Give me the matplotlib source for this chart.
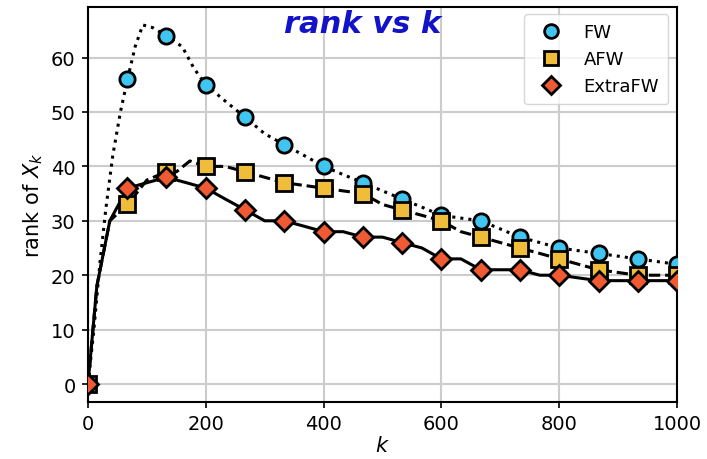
import matplotlib.pyplot as plt
import numpy as np

# --- data ---
k_marks = [0, 67, 133, 200, 267, 333, 400, 467, 533, 600, 667, 733, 800, 867, 933, 1000]
fw_marks = [0, 56, 64, 55, 49, 44, 40, 37, 34, 31, 30, 27, 25, 24, 23, 22]
afw_marks = [0, 33, 39, 40, 39, 37, 36, 35, 32, 30, 27, 25, 23, 21, 20, 20]
extra_marks = [0, 36, 38, 36, 32, 30, 28, 27, 26, 23, 21, 21, 20, 19, 19, 19]

# line traces (denser than markers)
fw_k = [0, 10, 20, 30, 42, 55, 67, 80, 93, 110, 133, 160, 180, 200, 233, 267, 300, 333,
        367, 400, 433, 467, 500, 533, 567, 600, 633, 667, 700, 733, 767, 800, 833, 867,
        900, 933, 967, 1000]
fw_line = [0, 10, 22, 32, 42, 50, 56, 62, 66, 65.5, 64, 62, 58, 55, 52, 49, 46, 44,
           42, 40, 38.5, 37, 35.5, 34, 32.5, 31, 30.5, 30, 28.5, 27, 26, 25, 24.5, 24,
           23.5, 23, 22.5, 22]

afw_k = [0, 15, 37, 67, 100, 133, 150, 173, 200, 233, 267, 300, 333, 367, 400, 433, 467,
         500, 533, 567, 600, 633, 667, 700, 733, 767, 800, 833, 867, 900, 933, 967, 1000]
afw_line = [0, 18, 30, 33, 37.5, 39, 39, 41, 40, 40, 39, 38, 37, 36.5, 36, 35.5, 35,
            33, 32, 31, 30, 28, 27, 26, 25, 24, 23, 22, 21, 20.5, 20, 20, 20]

extra_k = [0, 15, 37, 67, 100, 133, 167, 200, 233, 267, 300, 333, 367, 400, 433, 467,
           500, 533, 567, 600, 633, 667, 700, 733, 767, 800, 833, 867, 900, 933, 967, 1000]
extra_line = [0, 18, 30, 36, 37, 38, 37, 36, 34, 32, 30, 30, 29, 28, 28, 27,
              27, 26, 25, 23, 23, 21, 21, 21, 20, 20, 19.5, 19, 19, 19, 19, 19]

labels = ['FW', 'AFW', 'ExtraFW']
colors = ['#3FC5F0', '#F0BD3A', '#F05A33']
markers = ['o', 's', 'D']
styles = [':', '--', '-']

fig = plt.figure(figsize=(7.07, 4.6), dpi=100)
ax = fig.add_axes([0.1245, 0.124, 0.8331, 0.8586])

lines = [(fw_k, fw_line), (afw_k, afw_line), (extra_k, extra_line)]
marks = [fw_marks, afw_marks, extra_marks]
for (kk, vv), mm, lab, c, m, ls in zip(lines, marks, labels, colors, markers, styles):
    ax.plot(kk, vv, color='black', linestyle=ls, linewidth=2.2, zorder=2)
    ax.plot(k_marks, mm, linestyle='none', marker=m, markersize=11 if m != 'D' else 10,
            markerfacecolor=c, markeredgecolor='black', markeredgewidth=2,
            label=lab, zorder=3)

ax.set_xlim(0, 1000)
ax.set_xticks(np.arange(0, 1001, 200))
ax.set_yticks(np.arange(0, 61, 10))
ax.tick_params(labelsize=14, width=1.2, length=4, pad=5)
ax.grid(True, color='#cccccc', linewidth=1.5)
ax.set_axisbelow(True)
for s in ax.spines.values():
    s.set_linewidth(1.5)

ax.set_xlabel('$k$', fontsize=15, labelpad=1)
ax.set_ylabel('rank of $X_k$', fontsize=15, labelpad=4)

ax.legend(loc='upper right', fontsize=13, borderpad=0.5, handletextpad=0.8,
          borderaxespad=0, markerscale=0.9, bbox_to_anchor=(0.985, 0.982))

fig.text(0.513, 0.946, 'rank vs k', color='#1212C8', fontsize=22,
         fontweight='bold', fontstyle='italic', ha='center', va='center')

fig.savefig('out.png', dpi=100)
